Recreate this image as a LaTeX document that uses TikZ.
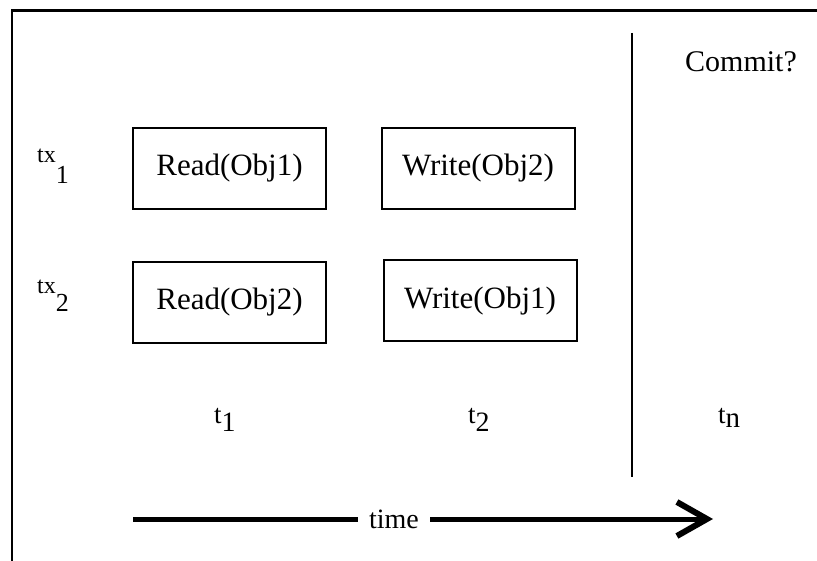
\documentclass[tikz,border=0pt]{standalone}
\usepackage{fontspec}
\setmainfont{Liberation Serif}
\usetikzlibrary{arrows.meta}

% lowered index after a label, e.g. tx_1, t_2
\newcommand{\lowidx}[3]{{\fontsize{#1}{#1}\selectfont\raisebox{#2}{#3}}}

\begin{document}
\begin{tikzpicture}[x=1pt,y=-1pt,
    opbox/.style={draw,line width=2pt,minimum width=193pt,minimum height=81pt,
      inner sep=0pt,font=\fontsize{31}{31}\selectfont},
    txlabel/.style={anchor=base west,inner sep=0pt,font=\fontsize{24}{24}\selectfont},
    tlabel/.style={anchor=base west,inner sep=0pt,font=\fontsize{27}{27}\selectfont}]
  \useasboundingbox (0,0) rectangle (817,561);
  % frame on top and left
  \draw[line width=2.5pt] (12,561) -- (12,10.5) -- (817,10.5);

  % transactions
  \node[txlabel] (tx1) at (37,163) {tx\lowidx{26}{-21pt}{1}};
  \node[txlabel] (tx2) at (37,294) {tx\lowidx{26}{-18pt}{2}};

  \node[opbox] (r1) at (229.5,168.5) {Read(Obj1)};
  \node[opbox] (w1) at (478,168.5) {Write(Obj2)};
  \node[opbox] (r2) at (229.5,302.5) {Read(Obj2)};
  \node[opbox] (w2) at (480,301) {Write(Obj1)};

  % time steps
  \node[tlabel] (t1) at (214,423) {t\lowidx{28}{-9pt}{1}};
  \node[tlabel] (t2) at (468,423) {t\lowidx{28}{-9pt}{2}};
  \node[tlabel] (tn) at (718,423) {t\lowidx{29}{-4pt}{n}};

  % commit point
  \coordinate (cutTop) at (632,33);
  \coordinate (cutBot) at (632,477);
  \draw[line width=1.8pt] (cutTop) -- (cutBot);
  \node[anchor=base west,inner sep=0pt,font=\fontsize{30}{30}\selectfont] (commit) at (685,72) {Commit?};

  % time axis
  \coordinate (tStart) at (133,519);
  \coordinate (tEnd) at (713,519);
  \node[inner xsep=11pt,inner ysep=2pt,font=\fontsize{28}{28}\selectfont] (time) at (394,519) {time};
  \draw[line width=5pt] (tStart) -- (time.west);
  \draw[line width=5pt,-{Straight Barb[length=30pt,width=34pt,line width=6pt]}] (time.east) -- (tEnd);
\end{tikzpicture}
\end{document}
